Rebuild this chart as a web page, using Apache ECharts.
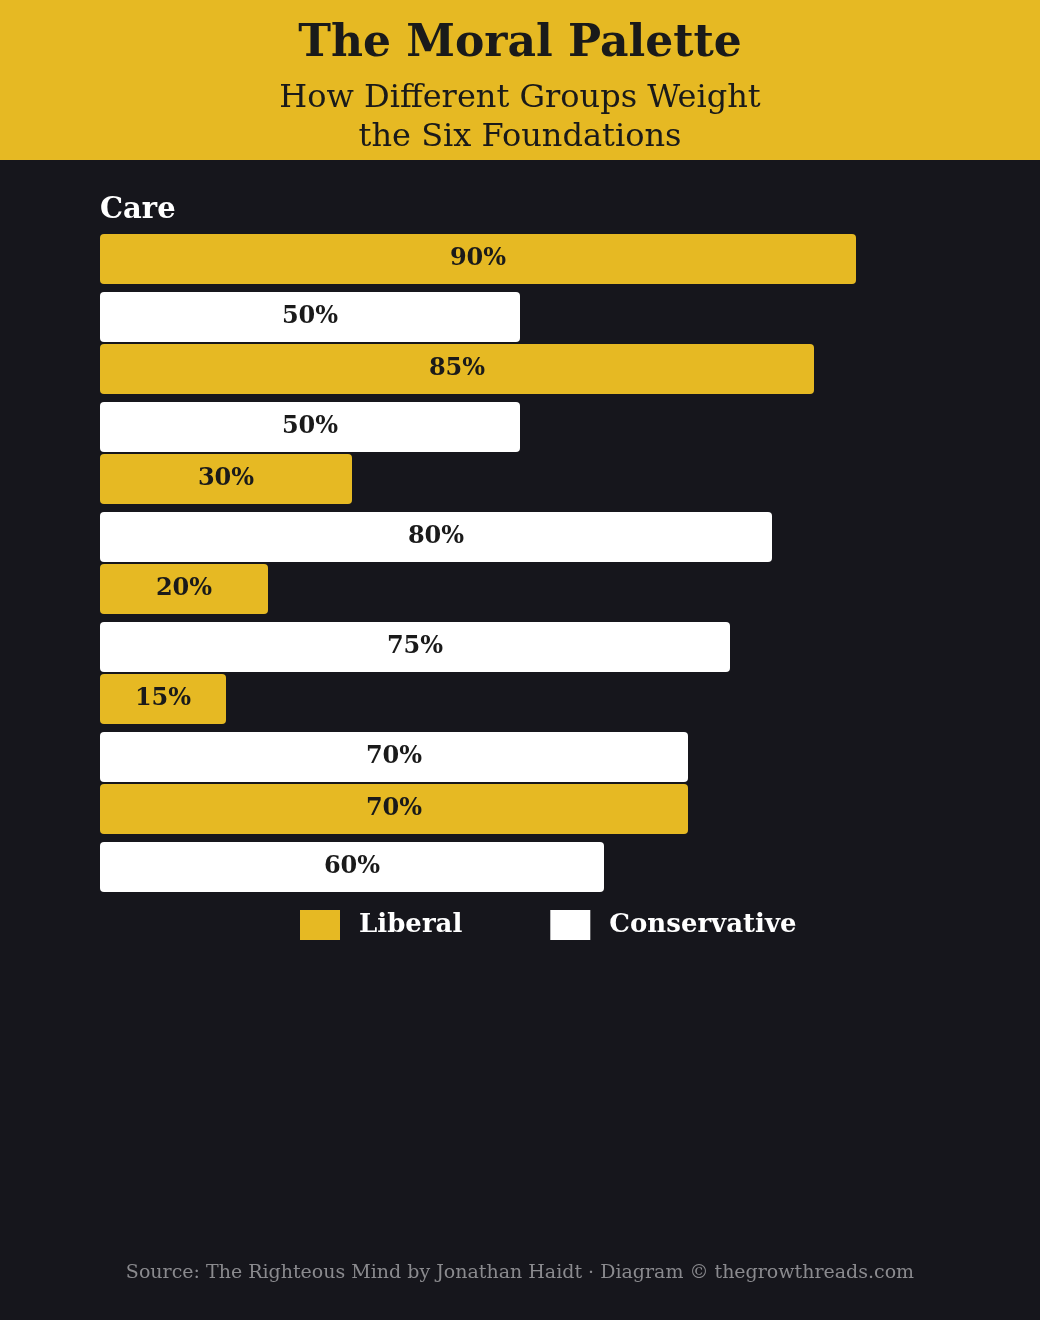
<!DOCTYPE html>
<html>
<head>
<meta charset="utf-8">
<script src="https://cdn.jsdelivr.net/npm/echarts@6/dist/echarts.min.js"></script>
<style>
  html, body { margin: 0; padding: 0; background: #16161c; }
  #chart { width: 1040px; height: 1320px; }
</style>
</head>
<body>
<div id="chart"></div>
<script>
// six foundations, liberal vs conservative weight (%)
const categories = ['Care', 'Fairness', 'Loyalty', 'Authority', 'Sanctity', 'Liberty'];
const liberal = [90, 85, 30, 20, 15, 70];
const conservative = [50, 50, 80, 75, 70, 60];

const YELLOW = '#e6b923';
const DARK = '#16161c';
const SERIF = '"DejaVu Serif", "Liberation Serif", serif';

const chart = echarts.init(document.getElementById('chart'));

const labelStyle = {
  show: true,
  position: 'inside',
  formatter: '{c}%',
  color: '#1a1a1a',
  fontFamily: SERIF,
  fontWeight: 'bold',
  fontSize: 24
};

const option = {
  animation: false,
  backgroundColor: DARK,
  graphic: [
    {
      type: 'rect',
      shape: { x: 0, y: 0, width: 1040, height: 160 },
      style: { fill: YELLOW },
      z: -1
    },
    {
      type: 'text',
      x: 520,
      y: 99,
      style: {
        text: 'How Different Groups Weight',
        fill: '#1a1a1a',
        font: 'normal 32px ' + SERIF,
        textAlign: 'center',
        textVerticalAlign: 'middle'
      }
    },
    {
      type: 'text',
      x: 520,
      y: 138,
      style: {
        text: 'the Six Foundations',
        fill: '#1a1a1a',
        font: 'normal 32px ' + SERIF,
        textAlign: 'center',
        textVerticalAlign: 'middle'
      }
    }
  ],
  title: [
    {
      text: 'The Moral Palette',
      left: 'center',
      top: 18,
      textStyle: { fontFamily: SERIF, fontWeight: 'bold', fontSize: 44, color: '#1a1a1a' }
    },
    {
      text: categories[0],
      left: 100,
      top: 196,
      padding: 0,
      textStyle: { fontFamily: SERIF, fontWeight: 'bold', fontSize: 29, color: '#ffffff' }
    },
    {
      text: 'Source: The Righteous Mind by Jonathan Haidt · Diagram © thegrowthreads.com',
      left: 'center',
      top: 1259,
      textStyle: { fontFamily: SERIF, fontWeight: 'normal', fontSize: 19, color: '#8a8a8e' }
    }
  ],
  legend: {
    left: 295,
    top: 905,
    itemWidth: 40,
    itemHeight: 30,
    itemGap: 88,
    icon: 'rect',
    textStyle: {
      fontFamily: SERIF,
      fontWeight: 'bold',
      fontSize: 26,
      color: '#ffffff',
      padding: [0, 0, 0, 14]
    },
    data: ['Liberal', 'Conservative']
  },
  grid: { left: 100, width: 840, top: 233, height: 660 },
  xAxis: {
    type: 'value',
    min: 0,
    max: 100,
    show: false
  },
  yAxis: {
    type: 'category',
    data: categories,
    inverse: true,
    axisLine: { show: false },
    axisTick: { show: false },
    axisLabel: { show: false }
  },
  series: [
    {
      name: 'Liberal',
      type: 'bar',
      data: liberal,
      barWidth: 50,
      barGap: '16%',
      barCategoryGap: 2,
      itemStyle: { color: YELLOW, borderRadius: 4 },
      label: labelStyle
    },
    {
      name: 'Conservative',
      type: 'bar',
      data: conservative,
      barWidth: 50,
      itemStyle: { color: '#ffffff', borderRadius: 4 },
      label: labelStyle
    }
  ]
};

chart.setOption(option);
</script>
</body>
</html>
